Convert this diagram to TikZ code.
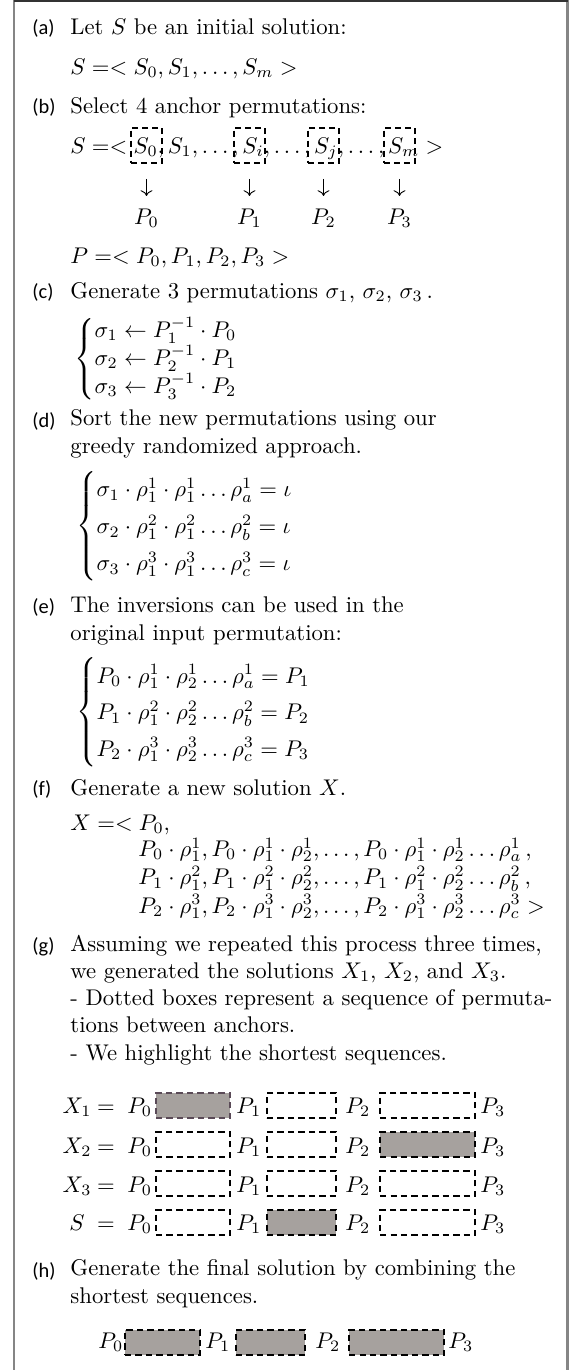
\documentclass[tikz,border=0pt]{standalone}
\usepackage{fontspec}
\newfontfamily\lblfont{Carlito}
\usetikzlibrary{arrows.meta,positioning}
\definecolor{cHL}{HTML}{A6A19E}
\definecolor{cHLD}{HTML}{5A4A57}
\definecolor{cFRM}{HTML}{858585}
\definecolor{cTOP}{HTML}{333333}
\tikzset{
  steplbl/.style={anchor=base west, inner sep=0pt, font=\lblfont\fontsize{9}{11}\selectfont},
  txt/.style={anchor=base west, inner sep=0pt, align=left, font=\fontsize{10}{12}\selectfont},
  plbl/.style={inner sep=0pt, font=\fontsize{10}{12}\selectfont},
  seqbox/.style={draw, line width=0.8pt, dash pattern=on 2.8pt off 1.8pt, inner sep=0pt, minimum height=11pt},
  hlbox/.style={seqbox, fill=cHL},
  ancbox/.style={draw, line width=0.8pt, dash pattern=on 2.6pt off 1.8pt, inner sep=0pt, minimum width=13.7pt, minimum height=15.4pt}
}
\newcommand{\rowlbl}[1]{\makebox[12pt][c]{$#1$}$\;=\;P_0$}

\begin{document}
\begin{tikzpicture}[x=0.4405pt, y=-0.4405pt, >=To]
\useasboundingbox (0,0) rectangle (575,1370);
% frame
\draw[cFRM, line width=1pt] (14,0) -- (14,1370);
\draw[cFRM, line width=1.2pt] (567.5,0) -- (567.5,1370);
\draw[cTOP, line width=1pt] (14,0.8) -- (568,0.8);

% (a)
\node[steplbl] (la) at (32,34) {(a)};
\node[txt] (ta) at (70,34) {Let $S$ be an initial solution:};
\node[txt] (sa) at (70,74) {$S =< S_0, S_1, \ldots, S_m >$};

% (b)
\node[steplbl] (lb) at (32,113) {(b)};
\node[txt] (tb) at (70,113) {Select 4 anchor permutations:};
\node[txt] (sb) at (70,153) {$S =< S_0, S_1, \ldots, S_i, \ldots, S_j, \ldots, S_m >$};
\node[ancbox] (s0) at (146.5,145.5) {};
\node[ancbox] (si) at (249.5,145.5) {};
\node[ancbox] (sj) at (323.5,145.5) {};
\node[ancbox] (sm) at (399.5,145.5) {};
\node[plbl, below=19.6pt of s0] (p0) {$P_0$};
\node[plbl, below=19.6pt of si] (p1) {$P_1$};
\node[plbl, below=19.6pt of sj] (p2) {$P_2$};
\node[plbl, below=19.6pt of sm] (p3) {$P_3$};
\foreach \a/\b in {s0/p0, si/p1, sj/p2, sm/p3}
  \draw[->, line width=0.4pt, shorten <=6.6pt, shorten >=5.5pt] (\a) -- (\b);
\node[txt] (pb) at (70,263) {$P =< P_0, P_1, P_2, P_3 >$};

% (c)
\node[steplbl] (lc) at (32,298) {(c)};
\node[txt] (tc) at (70,298) {Generate 3 permutations $\sigma_1$, $\sigma_2$, $\sigma_3\,$.};
\node[txt] (cc) at (74,365) {$\left\{\renewcommand{\arraystretch}{1.0}\begin{array}{@{}l@{}}
  \sigma_1 \leftarrow P_1^{-1} \cdot P_0\\
  \sigma_2 \leftarrow P_2^{-1} \cdot P_1\\
  \sigma_3 \leftarrow P_3^{-1} \cdot P_2
\end{array}\right.$};

% (d) -- multi-line nodes sit on the baseline of their last line
\node[steplbl] (ld) at (32,427) {(d)};
\node[txt] (td) at (70,453) {Sort the new permutations using our\\greedy randomized approach.};
\node[txt] (cd) at (76,532) {$\left\{\renewcommand{\arraystretch}{1.36}\begin{array}{@{}l@{}}
  \sigma_1 \cdot \rho^1_1 \cdot \rho^1_1 \ldots \rho^1_a = \iota\\
  \sigma_2 \cdot \rho^2_1 \cdot \rho^2_1 \ldots \rho^2_b = \iota\\
  \sigma_3 \cdot \rho^3_1 \cdot \rho^3_1 \ldots \rho^3_c = \iota
\end{array}\right.$};

% (e)
\node[steplbl] (le) at (32,613) {(e)};
\node[txt] (te) at (70,640) {The inversions can be used in the\\original input permutation:};
\node[txt] (ce) at (76,718) {$\left\{\renewcommand{\arraystretch}{1.34}\begin{array}{@{}l@{}}
  P_0 \cdot \rho^1_1 \cdot \rho^1_2 \ldots \rho^1_a = P_1\\
  P_1 \cdot \rho^2_1 \cdot \rho^2_2 \ldots \rho^2_b = P_2\\
  P_2 \cdot \rho^3_1 \cdot \rho^3_2 \ldots \rho^3_c = P_3
\end{array}\right.$};

% (f)
\node[steplbl] (lf) at (32,795) {(f)};
\node[txt] (tf) at (70,795) {Generate a new solution $X$.};
\node[txt] (xf) at (70,830) {$X =< P_0,$};
\node[txt, font=\fontsize{10}{12.5}\selectfont] (xs) at (138,913) {$P_0 \cdot \rho^1_1, P_0 \cdot \rho^1_1 \cdot \rho^1_2, \ldots, P_0 \cdot \rho^1_1 \cdot \rho^1_2 \ldots \rho^1_a\,,$\\
$P_1 \cdot \rho^2_1, P_1 \cdot \rho^2_1 \cdot \rho^2_2, \ldots, P_1 \cdot \rho^2_1 \cdot \rho^2_2 \ldots \rho^2_b\,,$\\
$P_2 \cdot \rho^3_1, P_2 \cdot \rho^3_1 \cdot \rho^3_2, \ldots, P_2 \cdot \rho^3_1 \cdot \rho^3_2 \ldots \rho^3_c >$};

% (g)
\node[steplbl] (lg) at (32,952) {(g)};
\node[txt] (tg) at (70,1060) {Assuming we repeated this process three times,\\
we generated the solutions $X_1$, $X_2$, and $X_3$.\\
- Dotted boxes represent a sequence of permuta-\\
tions between anchors.\\
- We highlight the shortest sequences.};

\node[txt] (x1) at (63,1113) {\rowlbl{X_1}};
\node[hlbox, draw=cHLD, minimum width=32.6pt] (x1a) at (193,1105.5) {};
\node[txt] (x1p1) at (236,1113) {$P_1$};
\node[seqbox, minimum width=30.4pt] (x1b) at (301.5,1105.5) {};
\node[txt] (x1p2) at (345,1113) {$P_2$};
\node[seqbox, minimum width=41.8pt] (x1c) at (427.5,1105.5) {};
\node[txt] (x1p3) at (480,1113) {$P_3$};

\node[txt] (x2) at (63,1153) {\rowlbl{X_2}};
\node[seqbox, minimum width=32.6pt] (x2a) at (193,1144.5) {};
\node[txt] (x2p1) at (236,1153) {$P_1$};
\node[seqbox, minimum width=30.4pt] (x2b) at (301.5,1144.5) {};
\node[txt] (x2p2) at (345,1153) {$P_2$};
\node[hlbox, minimum width=41.8pt] (x2c) at (427.5,1144.5) {};
\node[txt] (x2p3) at (480,1153) {$P_3$};

\node[txt] (x3) at (63,1192) {\rowlbl{X_3}};
\node[seqbox, minimum width=32.6pt] (x3a) at (193,1183.5) {};
\node[txt] (x3p1) at (236,1192) {$P_1$};
\node[seqbox, minimum width=30.4pt] (x3b) at (301.5,1183.5) {};
\node[txt] (x3p2) at (345,1192) {$P_2$};
\node[seqbox, minimum width=41.8pt] (x3c) at (427.5,1183.5) {};
\node[txt] (x3p3) at (480,1192) {$P_3$};

\node[txt] (sr) at (63,1230) {\rowlbl{S}};
\node[seqbox, minimum width=32.6pt] (sra) at (193,1222.5) {};
\node[txt] (srp1) at (236,1230) {$P_1$};
\node[hlbox, minimum width=30.4pt] (srb) at (301.5,1222.5) {};
\node[txt] (srp2) at (345,1230) {$P_2$};
\node[seqbox, minimum width=41.8pt] (src) at (427.5,1222.5) {};
\node[txt] (srp3) at (480,1230) {$P_3$};

% (h)
\node[steplbl] (lh) at (32,1277) {(h)};
\node[txt] (th) at (70,1303) {Generate the final solution by combining the\\shortest sequences.};
\node[txt] (fp0) at (98,1348) {$P_0$};
\node[hlbox, minimum width=33pt] (fa) at (162.5,1342.5) {};
\node[txt] (fp1) at (205,1348) {$P_1$};
\node[hlbox, minimum width=30.4pt] (fb) at (270.5,1342.5) {};
\node[txt] (fp2) at (315,1348) {$P_2$};
\node[hlbox, minimum width=41.8pt] (fc) at (396.5,1342.5) {};
\node[txt] (fp3) at (448,1348) {$P_3$};
\end{tikzpicture}
\end{document}
